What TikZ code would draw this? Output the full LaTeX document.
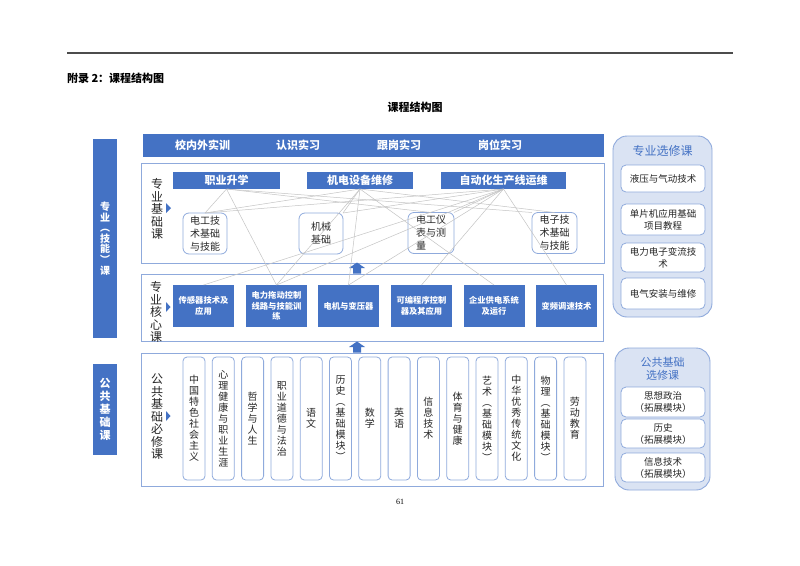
\documentclass[tikz,border=0pt]{standalone}
\usepackage{fontspec}
\setmainfont{Noto Sans CJK SC}
\newfontfamily\numfont{Liberation Serif}
\definecolor{mblue}{HTML}{4472C4}
\definecolor{bline}{HTML}{8FAADC}
\definecolor{lfill}{HTML}{DAE3F3}
\definecolor{cline}{HTML}{C4C4C4}
\definecolor{txt}{HTML}{262626}
\begin{document}
\begin{tikzpicture}[x=1pt,y=-1pt,
  every node/.style={inner sep=0pt, outer sep=0pt},
  bluebar/.style={fill=mblue, draw=none},
  bartext/.style={text=white, font=\fontsize{11}{13}\selectfont\bfseries},
  frame/.style={draw=bline, line width=0.9pt, fill=white},
  fcourse/.style={draw=bline, line width=0.8pt, fill=white, rounded corners=6pt, minimum height=41pt, align=center, font=\fontsize{10}{13}\selectfont, text=txt},
  ccourse/.style={fill=mblue, minimum width=61pt, minimum height=42pt, align=center, text=white, font=\fontsize{8.3}{10.5}\selectfont\bfseries},
  pcourse/.style={draw=bline, line width=0.8pt, fill=white, rounded corners=4pt, minimum width=22pt, minimum height=123pt, align=center, font=\fontsize{10}{11}\selectfont, text=txt},
  biglabel/.style={align=center, font=\fontsize{12}{12.5}\selectfont, text=txt},
  ecourse/.style={draw=bline, line width=0.8pt, fill=white, rounded corners=5pt, minimum width=84pt, align=center, font=\fontsize{9.5}{12}\selectfont, text=txt},
  sidepanel/.style={draw=bline, line width=0.9pt, fill=lfill, rounded corners=14pt},
  link/.style={draw=cline, line width=0.5pt},
  marker/.style={fill=mblue, draw=none}
]
\useasboundingbox (0,0) rectangle (800,565);
\fill[white] (0,0) rectangle (800,565);

% header
\draw[line width=1.3pt, black!70] (67,53) -- (733,53);
\node[anchor=west, font=\fontsize{11}{13}\selectfont\bfseries] (head) at (67,78) {附录 2：课程结构图};
\node[font=\fontsize{11}{13}\selectfont\bfseries] (title) at (415,107) {课程结构图};

% left column
\node[bluebar, minimum width=24pt, minimum height=199pt, align=center, text=white, font=\fontsize{10}{10.6}\selectfont\bfseries] (zyk) at (105,238.5) {专\\业\\︵\\技\\能\\︶\\课};
\node[bluebar, minimum width=24pt, minimum height=91pt, align=center, text=white, font=\fontsize{11}{13}\selectfont\bfseries] (ggk) at (105,409.5) {公\\共\\基\\础\\课};

% top bar
\node[bluebar, minimum width=461pt, minimum height=23pt] (topbar) at (373.5,145.5) {};
\node[bartext] (t1) at (202.5,145.5) {校内外实训};
\node[bartext] (t2) at (298,145.5) {认识实习};
\node[bartext] (t3) at (399,145.5) {跟岗实习};
\node[bartext] (t4) at (500,145.5) {岗位实习};

% foundation frame
\node[frame, minimum width=463pt, minimum height=100pt] (fframe) at (372.5,213) {};
\node[biglabel] (flabel) at (157,209) {专\\业\\基\\础\\课};
\fill[marker] (166,203) -- (171,208) -- (166,213) -- cycle;
\node[bluebar, minimum width=107pt, minimum height=17pt] (zy) at (226.5,180.5) {};
\node[bartext] at (zy) {职业升学};
\node[bluebar, minimum width=106pt, minimum height=17pt] (jd) at (360,180.5) {};
\node[bartext] at (jd) {机电设备维修};
\node[bluebar, minimum width=125pt, minimum height=17pt] (zd) at (503.5,180.5) {};
\node[bartext] at (zd) {自动化生产线运维};

\node[fcourse, minimum width=44pt] (f1) at (205,233.5) {电工技\\术基础\\与技能};
\node[fcourse, minimum width=44pt] (f2) at (321,233.5) {机械\\基础};
\node[fcourse, minimum width=46pt, align=left] (f3) at (431,233) {电工仪\\表与测\\量};
\node[fcourse, minimum width=45pt] (f4) at (554.5,233) {电子技\\术基础\\与技能};

% core frame
\node[frame, minimum width=462pt, minimum height=67pt] (cframe) at (372,307.5) {};
\node[biglabel] (clabel) at (156,312) {专\\业\\核\\心\\课};
\fill[marker] (166,302) -- (170.5,307) -- (166,312) -- cycle;
\node[ccourse] (c1) at (203.5,306) {传感器技术及\\应用};
\node[ccourse] (c2) at (276.5,306) {电力拖动控制\\线路与技能训\\练};
\node[ccourse] (c3) at (348.5,306) {电机与变压器};
\node[ccourse] (c4) at (421.5,306) {可编程序控制\\器及其应用};
\node[ccourse] (c5) at (494,306) {企业供电系统\\及运行};
\node[ccourse] (c6) at (566.5,306) {变频调速技术};

% up arrows
\fill[mblue] (357,262.5) -- (365,268) -- (361,268) -- (361,273.5) -- (353,273.5) -- (353,268) -- (349,268) -- cycle;
\fill[mblue] (357,341.5) -- (365,347) -- (361,347) -- (361,352.5) -- (353,352.5) -- (353,347) -- (349,347) -- cycle;

% public frame
\node[frame, minimum width=462pt, minimum height=133pt] (pframe) at (372,419.5) {};
\node[biglabel] (plabel) at (157,417) {公\\共\\基\\础\\必\\修\\课};
\fill[marker] (166,411) -- (170.5,416) -- (166,421) -- cycle;
\node[pcourse] (p1) at (194,418.5) {中\\国\\特\\色\\社\\会\\主\\义};
\node[pcourse] (p2) at (223.3,418.5) {心\\理\\健\\康\\与\\职\\业\\生\\涯};
\node[pcourse] (p3) at (252.6,418.5) {哲\\学\\与\\人\\生};
\node[pcourse] (p4) at (281.9,418.5) {职\\业\\道\\德\\与\\法\\治};
\node[pcourse] (p5) at (311.2,418.5) {语\\文};
\node[pcourse] (p6) at (340.5,418.5) {历\\史\\︵\\基\\础\\模\\块\\︶};
\node[pcourse] (p7) at (369.8,418.5) {数\\学};
\node[pcourse] (p8) at (399.1,418.5) {英\\语};
\node[pcourse] (p9) at (428.4,418.5) {信\\息\\技\\术};
\node[pcourse] (p10) at (457.7,418.5) {体\\育\\与\\健\\康};
\node[pcourse] (p11) at (487.0,418.5) {艺\\术\\︵\\基\\础\\模\\块\\︶};
\node[pcourse] (p12) at (516.3,418.5) {中\\华\\优\\秀\\传\\统\\文\\化};
\node[pcourse] (p13) at (545.6,418.5) {物\\理\\︵\\基\\础\\模\\块\\︶};
\node[pcourse] (p14) at (574.9,418.5) {劳\\动\\教\\育};

% right panel 1
\node[sidepanel, minimum width=99pt, minimum height=181pt] (rp1) at (662.5,226.5) {};
\node[text=mblue, font=\fontsize{12}{14}\selectfont] (rp1t) at (662.5,151) {专业选修课};
\node[ecourse, minimum height=27pt] (e1) at (663,178.5) {液压与气动技术};
\node[ecourse, minimum height=31pt] (e2) at (663,219.5) {单片机应用基础\\项目教程};
\node[ecourse, minimum height=29pt] (e3) at (663,257.5) {电力电子变流技\\术};
\node[ecourse, minimum height=31pt] (e4) at (663,293.5) {电气安装与维修};

% right panel 2
\node[sidepanel, minimum width=95pt, minimum height=142pt] (rp2) at (662.5,419) {};
\node[text=mblue, align=center, font=\fontsize{11}{13}\selectfont] (rp2t) at (662.5,368.5) {公共基础\\选修课};
\node[ecourse, minimum height=30pt] (g1) at (663,402) {思想政治\\（拓展模块）};
\node[ecourse, minimum height=29pt] (g2) at (663,433.5) {历史\\（拓展模块）};
\node[ecourse, minimum height=29pt] (g3) at (663,467.5) {信息技术\\（拓展模块）};

% page number
\node[font=\numfont\fontsize{8}{10}\selectfont] (pnum) at (400,502) {61};

% links
\draw[link] (zy.south) -- (f1.north);
\draw[link] (zy.south) -- (c2.north);
\draw[link] (zy.south) -- (f3.north);
\draw[link] (zy.south) -- (f4.north west);
\draw[link] (jd.south) -- (f1.north);
\draw[link] (jd.south) -- (f2.north east);
\draw[link] (jd.south) -- (c2.north);
\draw[link] (jd.south) -- (c3.north);
\draw[link] (jd.south) -- (c5.north);
\draw[link] (jd.south) -- (f4.north);
\draw[link] (zd.south) -- (f1.north);
\draw[link] (zd.south) -- (f2.north east);
\draw[link] (zd.south) -- (f3.north east);
\draw[link] (zd.south) -- (c1.north);
\draw[link] (zd.south) -- (c2.north);
\draw[link] (zd.south) -- (c3.north);
\draw[link] (zd.south) -- (c4.north);
\draw[link] (zd.south) -- (c6.north);
\end{tikzpicture}
\end{document}
